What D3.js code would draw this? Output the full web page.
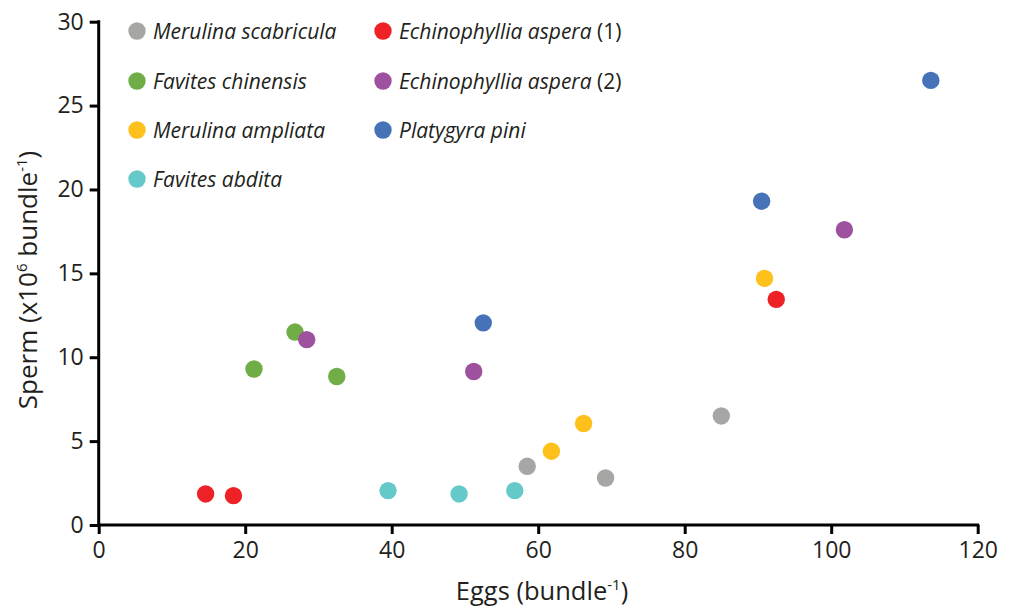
<!DOCTYPE html>
<html><head><meta charset="utf-8">
<script src="https://cdn.jsdelivr.net/npm/d3@7"></script>
<style>body{margin:0;background:#fff}svg{display:block}text{font-family:"Open Sans","Noto Sans",sans-serif;fill:#231f20}</style>
</head><body><svg id="c" width="1015" height="609"></svg>
<script>
const species = ["Merulina scabricula","Favites chinensis","Merulina ampliata","Favites abdita","Echinophyllia aspera","Echinophyllia aspera","Platygyra pini"];
const suffixes = ["","","","","(1)","(2)",""];
const colors = ["#a6a6a5","#70ad47","#fec01a","#66c9c9","#ed2126","#9d519f","#4673b8"];
const eggs = [
  [58.5,69.2,85.0],
  [21.2,26.8,32.5],
  [61.8,66.2,90.9],
  [39.5,49.2,56.8],
  [14.6,18.4,92.5],
  [28.4,51.2,101.8],
  [52.5,90.5,113.6]
];
const sperm = [
  [3.5,2.8,6.5],
  [9.3,11.5,8.85],
  [4.4,6.05,14.7],
  [2.05,1.85,2.05],
  [1.85,1.75,13.45],
  [11.05,9.15,17.6],
  [12.05,19.3,26.5]
];
const xTicks = [0,20,40,60,80,100,120];
const yTicks = [0,5,10,15,20,25,30];

const svg = d3.select("#c");
const x = d3.scaleLinear().domain([0,120]).range([98.7,977.7]);
const y = d3.scaleLinear().domain([0,30]).range([525,21.7]);

const xg = svg.append("g").attr("transform","translate(0,525)")
  .call(d3.axisBottom(x).tickValues(xTicks).tickSize(9).tickPadding(8).tickSizeOuter(0));
const yg = svg.append("g").attr("transform","translate(98.7,0)")
  .call(d3.axisLeft(y).tickValues(yTicks).tickSize(9).tickPadding(6).tickSizeOuter(0));
[xg,yg].forEach(g=>{
  g.select(".domain").attr("stroke","#000").attr("stroke-width",3);
  g.selectAll(".tick line").attr("stroke","#000").attr("stroke-width",3);
  g.selectAll(".tick text").attr("font-size",23).attr("fill","#231f20").attr("font-family","'Open Sans',sans-serif");
});
xg.select(".domain").attr("d",`M${98.7-1.5},0H${977.7+1.5}`);
yg.select(".domain").attr("d",`M0,${21.7-1.5}V${525+1.5}`);

species.forEach((s,i)=>{
  svg.append("g").selectAll("circle").data(eggs[i].map((e,j)=>[e,sperm[i][j]])).join("circle")
    .attr("cx",d=>x(d[0])).attr("cy",d=>y(d[1])).attr("r",8.7).attr("fill",colors[i]);
});

const legPos = [[137,31],[137,81],[137,130],[137,179],[383,31],[383,81],[383,130]];
species.forEach((s,i)=>{
  const [lx,ly]=legPos[i];
  svg.append("circle").attr("cx",lx).attr("cy",ly).attr("r",8.7).attr("fill",colors[i]);
  const t = svg.append("text").attr("x",lx+16).attr("y",ly+7.5).attr("font-size",21);
  t.append("tspan").attr("font-style","italic").text(s);
  if(suffixes[i]) t.append("tspan").text(" "+suffixes[i]);
});

const xt = svg.append("text").attr("x",542).attr("y",600).attr("text-anchor","middle").attr("font-size",25.5);
xt.append("tspan").text("Eggs (bundle");
xt.append("tspan").attr("dy",-10).attr("font-size",15).text("-1");
xt.append("tspan").attr("dy",10).text(")");

const yt = svg.append("text").attr("transform","translate(37,280) rotate(-90)").attr("text-anchor","middle").attr("font-size",26);
yt.append("tspan").text("Sperm (x10");
yt.append("tspan").attr("dy",-10).attr("font-size",15).text("6");
yt.append("tspan").attr("dy",10).text(" bundle");
yt.append("tspan").attr("dy",-10).attr("font-size",15).text("-1");
yt.append("tspan").attr("dy",10).text(")");
</script></body></html>
